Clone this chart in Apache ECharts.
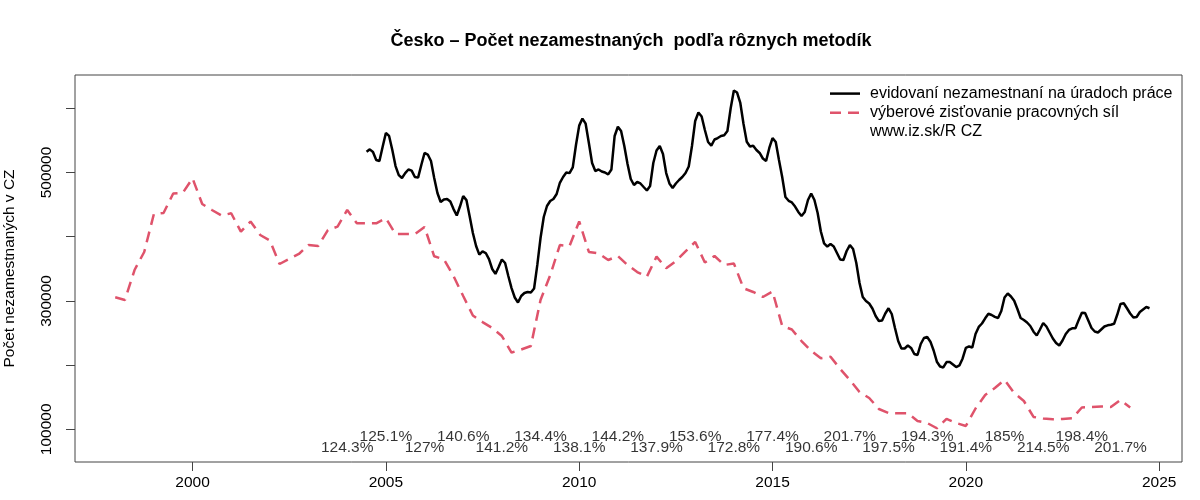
<!DOCTYPE html>
<html>
<head>
<meta charset="utf-8">
<script src="https://cdn.jsdelivr.net/npm/echarts@6/dist/echarts.min.js"></script>
<style>html,body{margin:0;padding:0;background:#fff}#c{width:1200px;height:500px}</style>
</head>
<body>
<div id="c"></div>
<script>
// ---- data ----
const titleText = 'Česko – Počet nezamestnaných  podľa rôznych metodík';
const yAxisTitle = 'Počet nezamestnaných v CZ';
const seriesNames = ['evidovaní nezamestnaní na úradoch práce', 'výberové zisťovanie pracovných síl', 'www.iz.sk/R CZ'];

// registered unemployed, monthly from 2004.5
const registeredStart = 2004.5;
const registered = [
532400,536000,532000,519500,518000,540000,561500,557000,535000,510000,496000,491400,
499000,504700,503000,493000,492000,511700,530400,528000,518000,491400,468000,454000,
458000,458700,454800,443000,433000,447000,463400,457000,432000,405800,385500,372000,
377000,374600,365000,349700,342000,352800,364500,359000,338800,320000,305300,297500,
307600,312300,313900,313000,319300,356000,398000,430700,447800,455600,458700,466500,
484000,493000,500000,499000,507800,542800,573000,584000,576000,546000,514800,502300,
504700,501600,500000,497000,504700,556900,571300,564600,541300,513200,489900,480500,
485200,482900,477400,472000,479000,514800,534300,541300,528800,499200,482900,475900,
482900,488300,493000,499200,509300,541300,580200,593500,587200,566200,547500,542000,
551400,553700,556900,558100,564600,599700,627700,624600,608300,575500,548000,540500,
541600,535000,530400,521800,517900,538200,553700,547500,519500,493000,461800,455900,
453300,447000,438500,432300,438500,457200,467300,457200,436900,408100,389700,384700,
388600,384700,374600,364500,363700,377700,387000,380800,359000,327900,306100,299800,
296000,288200,276500,268700,269500,280400,288500,279600,257800,237500,225900,225900,
230500,226700,217300,215700,232900,242200,243800,236500,222700,205300,197800,196300,
204800,204800,200900,197000,199400,210300,226700,229000,227400,248400,259400,264800,
272900,280000,278100,275200,273400,284300,305300,311500,306900,300200,287400,273400,
270300,266400,260900,252000,246100,255500,265600,260100,250800,241400,234400,230500,
238300,248400,254700,257300,257300,270000,281500,281200,269500,257800,252300,250800,
255500,260100,262000,262800,264300,278800,295200,296300,288500,280400,274200,275000,
282700,286600,290500,288500
];

// labour force survey, quarterly from 1998.0
const lfsStart = 1998.0;
const lfs = [
305600,301400,348100,376200,435400,437000,467300,468400,491000,450900,441600,433000,
436500,407800,423700,402700,394000,357500,365300,373100,387000,385500,410400,415600,
441600,420900,420900,420900,428700,404200,404200,404200,415100,369500,364800,338600,
307600,277300,267000,257800,245300,219600,224300,229800,301400,340000,387000,385500,
423700,376200,374100,363700,369900,355900,345000,337700,368900,350800,362100,377000,
391800,359800,369900,355900,358300,319600,313900,306100,314600,261000,255500,237500,
222000,210600,213100,194000,176800,158100,148800,131600,125400,124900,124900,112900,
109800,101600,116100,109800,105200,132400,153500,164300,176800,156600,144100,119200,
116800,115600,116100,117100,134000,134700,135500,134700,145600,134000
];

// ratio labels per year
const ratioYears = [2004,2005,2006,2007,2008,2009,2010,2011,2012,2013,2014,2015,2016,2017,2018,2019,2020,2021,2022,2023,2024];
const ratioLabels = ['124.3%','125.1%','127%','140.6%','141.2%','134.4%','138.1%','144.2%','137.9%','153.6%','172.8%','177.4%','190.6%','201.7%','197.5%','194.3%','191.4%','185%','214.5%','198.4%','201.7%'];

const xTicks = [2000,2005,2010,2015,2020,2025];
const yTicks = [100000,200000,300000,400000,500000,600000];
const yTickLabels = [100000,300000,500000];

// ---- build ----
const regData = registered.map((v,i)=>[registeredStart + i/12, v]);
const lfsData = lfs.map((v,i)=>[lfsStart + i/4, v]);
const rowLow = 71000, rowHigh = 88000;
const ratioData = ratioYears.map((y,i)=>[y, i%2===0 ? rowLow : rowHigh, ratioLabels[i]]);

const BLACK = '#000', RED = '#DF536B', DASH = [11,7];
const FONT = 'Liberation Sans, Arial, Helvetica, sans-serif';
const LEG_TOP = 84, LEG_ROW = 19.2, LEG_X = 830;
const chart = echarts.init(document.getElementById('c'), null, {renderer:'canvas'});
chart.setOption({
  animation:false,
  backgroundColor:'#fff',
  title:{
    text:titleText, left:626, top:27, textAlign:'center',
    textStyle:{fontFamily:FONT, fontWeight:'bold', fontSize:18, color:'#000'}
  },
  legend:{
    orient:'vertical', left:LEG_X, top:LEG_TOP, padding:0, itemGap:0,
    itemWidth:30, itemHeight:LEG_ROW, selectedMode:false,
    textStyle:{fontFamily:FONT, fontSize:16, color:'#000', lineHeight:LEG_ROW, padding:[0,0,0,5]},
    data:[{name:seriesNames[0], icon:'none'},{name:seriesNames[1], icon:'none'},{name:seriesNames[2], icon:'none'}]
  },
  // legend keys (line samples)
  graphic:[
    {type:'line', shape:{x1:LEG_X, y1:LEG_TOP+LEG_ROW/2, x2:LEG_X+30, y2:LEG_TOP+LEG_ROW/2},
     style:{stroke:BLACK, lineWidth:2.5}, silent:true},
    {type:'line', shape:{x1:LEG_X, y1:LEG_TOP+LEG_ROW*1.5, x2:LEG_X+30, y2:LEG_TOP+LEG_ROW*1.5},
     style:{stroke:RED, lineWidth:2.5, lineDash:DASH}, silent:true}
  ],
  grid:{left:75, right:18, top:75, bottom:38, show:true, borderColor:'#444', borderWidth:1,
        backgroundColor:'transparent', containLabel:false, outerBoundsMode:'none'},
  xAxis:{
    type:'value', min:1996.96, max:2025.59,
    axisLine:{show:false}, splitLine:{show:false},
    axisTick:{show:true, inside:false, length:9, lineStyle:{color:'#444'}, customValues:xTicks},
    axisLabel:{show:true, margin:13, fontFamily:FONT, fontSize:15.5, color:'#000', customValues:xTicks, formatter:v=>String(v)}
  },
  yAxis:{
    type:'value', min:49065, max:651870,
    name:yAxisTitle, nameLocation:'middle', nameRotate:90, nameGap:57,
    nameTextStyle:{fontFamily:FONT, fontSize:15.5, color:'#000'},
    axisLine:{show:false}, splitLine:{show:false},
    axisTick:{show:true, inside:false, length:9, lineStyle:{color:'#444'}, customValues:yTicks},
    axisLabel:{show:true, rotate:90, margin:20, fontFamily:FONT, fontSize:15.5, color:'#000', customValues:yTickLabels, formatter:v=>String(v)}
  },
  series:[
    {name:seriesNames[0], type:'line', data:regData, showSymbol:false, symbol:'none',
     lineStyle:{color:BLACK, width:2.5}, itemStyle:{color:BLACK}, z:3},
    {name:seriesNames[1], type:'line', data:lfsData, showSymbol:false, symbol:'none',
     lineStyle:{color:RED, width:2.5, type:DASH}, itemStyle:{color:RED}, z:3},
    {name:seriesNames[2], type:'line', data:[], showSymbol:false, symbol:'none',
     lineStyle:{color:'#fff', width:0}, itemStyle:{color:'#fff'}},
    {name:'ratio', type:'scatter', data:ratioData, symbolSize:0, silent:true, z:4,
     label:{show:true, position:'inside', formatter:p=>p.data[2], fontFamily:FONT, fontSize:15.5, color:'#000'}}
  ]
});
</script>
</body>
</html>
